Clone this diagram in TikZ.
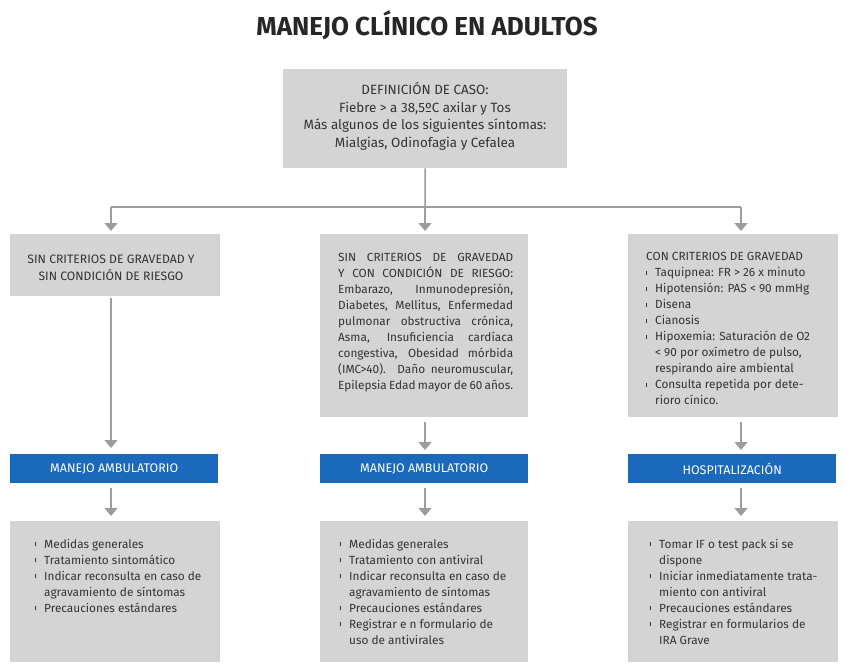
\documentclass[tikz,border=0pt]{standalone}
\usepackage{fontspec}
\setmainfont{Fira Sans}
\usetikzlibrary{arrows.meta}
\definecolor{boxgray}{HTML}{D4D4D4}
\definecolor{bluebox}{HTML}{1B69BD}
\definecolor{arrgray}{HTML}{9C9C9C}
\definecolor{txt}{HTML}{333333}
\definecolor{ttl}{HTML}{262626}
\newcommand{\bul}{\rule[2.3pt]{0.9pt}{3.8pt}}
\newcommand{\bi}[1]{\makebox[9pt][l]{\bul}#1}
\newcommand{\ci}[1]{\hspace*{9pt}#1}
\begin{document}
\begin{tikzpicture}[x=1pt,y=-1pt,
  graybox/.style={fill=boxgray,draw=none,inner sep=0pt,anchor=north west},
  bluebx/.style={fill=bluebox,draw=none,inner sep=0pt,anchor=north west,text=white,font=\fontsize{12.5}{14}\selectfont},
  bodytxt/.style={text=txt,inner sep=0pt,font=\fontsize{11.8}{16}\selectfont,align=left,anchor=north west},
  conn/.style={draw=arrgray,line width=1.5pt},
  arr/.style={draw=arrgray,line width=1.5pt,-{Triangle[width=13pt,length=8pt]}}]
\useasboundingbox (0,0) rectangle (850,670);
\fill[white] (0,0) rectangle (850,670);
% title
\node[text=ttl,inner sep=0pt,font=\fontsize{26}{30}\bfseries] (title) at (427,25) {MANEJO CLÍNICO EN ADULTOS};
% top box
\node[graybox,minimum width=284pt,minimum height=99pt] (def) at (283,69) {};
\node[text=txt,inner sep=0pt,align=center,font=\fontsize{13.4}{17.6}\selectfont] (deft) at (425,116.5)
 {DEFINICIÓN DE CASO:\\Fiebre > a 38,5ºC axilar y Tos\\Más algunos de los siguientes síntomas:\\Mialgias, Odinofagia y Cefalea};
% column coordinates
\coordinate (xa) at (111,0);
\coordinate (xb) at (425,0);
\coordinate (xc) at (741,0);
\coordinate (j) at (425,207);
% row 2 boxes
\node[graybox,minimum width=210pt,minimum height=62pt] (a) at (10,234) {};
\node[graybox,minimum width=208pt,minimum height=183pt] (b) at (320,234) {};
\node[graybox,minimum width=210pt,minimum height=183pt] (c) at (628,234) {};
\node[text=txt,inner sep=0pt,align=center,font=\fontsize{12.2}{16.5}\selectfont] (at) at (111,268)
 {SIN CRITERIOS DE GRAVEDAD Y\\SIN CONDICIÓN DE RIESGO};
\node[bodytxt,anchor=north west] (bt) at (338,253.5) {%
\makebox[175pt][s]{SIN CRITERIOS DE GRAVEDAD}\\
\makebox[175pt][s]{Y CON CONDICIÓN DE RIESGO:}\\
\makebox[175pt][s]{Embarazo, Inmunodepresión,}\\
\makebox[175pt][s]{Diabetes, Mellitus, Enfermedad}\\
\makebox[175pt][s]{pulmonar obstructiva crónica,}\\
\makebox[175pt][s]{Asma, Insuficiencia cardíaca}\\
\makebox[175pt][s]{congestiva, Obesidad mórbida}\\
\makebox[175pt][s]{(IMC>40). Daño neuromuscular,}\\
\makebox[175pt][s]{Epilepsia Edad mayor de 60 años.}};
\node[bodytxt] (ct) at (646,252.5) {%
CON CRITERIOS DE GRAVEDAD\\
\bi{Taquipnea: FR > 26 x minuto}\\
\bi{Hipotensión: PAS < 90 mmHg}\\
\bi{Disena}\\
\bi{Cianosis}\\
\bi{Hipoxemia: Saturación de O2}\\
\ci{< 90 por oxímetro de pulso,}\\
\ci{respirando aire ambiental}\\
\bi{Consulta repetida por dete-}\\
\ci{rioro cínico.}};
% blue boxes
\node[bluebx,minimum width=208pt,minimum height=29pt] (ba) at (10,454) {MANEJO AMBULATORIO};
\node[bluebx,minimum width=208pt,minimum height=29pt] (bb) at (320,454) {MANEJO AMBULATORIO};
\node[bluebx,minimum width=208pt,minimum height=29pt] (bc) at (628,454) {HOSPITALIZACIÓN};
% bottom boxes
\node[graybox,minimum width=210pt,minimum height=141pt] (da) at (10,521) {};
\node[graybox,minimum width=208pt,minimum height=141pt] (db) at (320,521) {};
\node[graybox,minimum width=210pt,minimum height=141pt] (dc) at (628,521) {};
\node[bodytxt] (dat) at (35,539) {%
\bi{Medidas generales}\\
\bi{Tratamiento sintomático}\\
\bi{Indicar reconsulta en caso de}\\
\ci{agravamiento de síntomas}\\
\bi{Precauciones estándares}};
\node[bodytxt] (dbt) at (340,539) {%
\bi{Medidas generales}\\
\bi{Tratamiento con antiviral}\\
\bi{Indicar reconsulta en caso de}\\
\ci{agravamiento de síntomas}\\
\bi{Precauciones estándares}\\
\bi{Registrar e n formulario de}\\
\ci{uso de antivirales}};
\node[bodytxt] (dct) at (650,539) {%
\bi{Tomar IF o test pack si se}\\
\ci{dispone}\\
\bi{Iniciar inmediatamente trata-}\\
\ci{miento con antiviral}\\
\bi{Precauciones estándares}\\
\bi{Registrar en formularios de}\\
\ci{IRA Grave}};
% connectors
\draw[conn] (def.south) -- (j);
\draw[conn] (j) -- (j -| xa);
\draw[conn] (j) -- (j -| xc);
\draw[arr,shorten >=3pt] (j -| xa) -- (a.north -| xa);
\draw[arr,shorten >=3pt] (j) -- (b.north -| xb);
\draw[arr,shorten >=3pt] (j -| xc) -- (c.north -| xc);
\draw[arr,shorten <=2pt,shorten >=6pt] (a.south -| xa) -- (ba.north -| xa);
\draw[arr,shorten <=5pt,shorten >=4pt] (b.south -| xb) -- (bb.north -| xb);
\draw[arr,shorten <=5pt,shorten >=4pt] (c.south -| xc) -- (bc.north -| xc);
\draw[arr,shorten <=5pt,shorten >=5pt] (ba.south -| xa) -- (da.north -| xa);
\draw[arr,shorten <=5pt,shorten >=5pt] (bb.south -| xb) -- (db.north -| xb);
\draw[arr,shorten <=5pt,shorten >=5pt] (bc.south -| xc) -- (dc.north -| xc);
\end{tikzpicture}
\end{document}
